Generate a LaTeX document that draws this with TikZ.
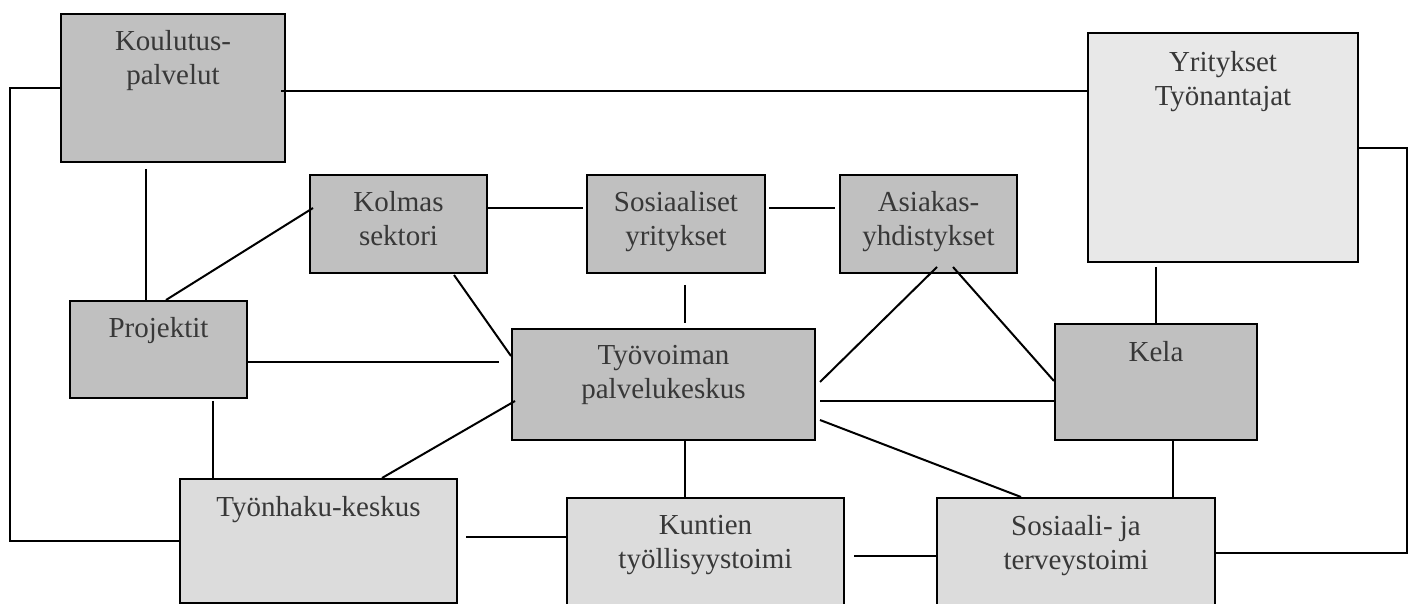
\documentclass[tikz,border=0pt]{standalone}
\usepackage{fontspec}
\setmainfont{Liberation Serif}
\definecolor{darkbox}{HTML}{C0C0C0}
\definecolor{lightbox}{HTML}{DCDCDC}
\definecolor{paleb}{HTML}{E8E8E8}
\definecolor{txt}{HTML}{383838}
\tikzset{
  boxn/.style={draw=black, line width=1pt, anchor=north west, inner sep=0pt},
  dk/.style={boxn, fill=darkbox},
  lt/.style={boxn, fill=lightbox},
  pl/.style={boxn, fill=paleb},
  lbl/.style={anchor=north, inner sep=0pt, align=center, text=txt,
    font=\fontsize{14.5}{17}\selectfont},
  conn/.style={draw=black, line width=1pt}
}
\begin{document}
\begin{tikzpicture}[x=0.5pt, y=-0.5pt]
\useasboundingbox (0,0) rectangle (1415,604);
\clip (0,0) rectangle (1415,604);
% boxes
\node[dk, minimum width=112pt, minimum height=74pt] (koul) at (60,13) {};
\node[pl, minimum width=135pt, minimum height=114.5pt] (yrit) at (1087,32) {};
\node[dk, minimum width=88.5pt, minimum height=49pt] (kol) at (309,174) {};
\node[dk, minimum width=89pt, minimum height=49pt] (sos) at (586,174) {};
\node[dk, minimum width=88.5pt, minimum height=49pt] (asi) at (839,174) {};
\node[dk, minimum width=88.5pt, minimum height=48.5pt] (proj) at (69,300) {};
\node[dk, minimum width=151.5pt, minimum height=55.5pt] (tyov) at (511,328) {};
\node[dk, minimum width=101pt, minimum height=58pt] (kela) at (1054,323) {};
\node[lt, minimum width=138.5pt, minimum height=62pt] (tyon) at (179,478) {};
\node[lt, minimum width=138.5pt, minimum height=70pt] (kunt) at (566,497) {};
\node[lt, minimum width=139pt, minimum height=70pt] (sosi) at (936,497) {};
% labels
\node[lbl] (koult) at ([shift={(0,17)}]koul.north) {Koulutus-\\palvelut};
\node[lbl] (yritt) at ([shift={(0,19)}]yrit.north) {Yritykset\\Työnantajat};
\node[lbl] (kolt) at ([shift={(0,17)}]kol.north) {Kolmas\\sektori};
\node[lbl] (sost) at ([shift={(0,17)}]sos.north) {Sosiaaliset\\yritykset};
\node[lbl] (asit) at ([shift={(0,17)}]asi.north) {Asiakas-\\yhdistykset};
\node[lbl] (projt) at ([shift={(0,17)}]proj.north) {Projektit};
\node[lbl] (tyovt) at ([shift={(0,17)}]tyov.north) {Työvoiman\\palvelukeskus};
\node[lbl] (kelat) at ([shift={(0,18)}]kela.north) {Kela};
\node[lbl] (tyont) at ([shift={(0,18)}]tyon.north) {Työnhaku-keskus};
\node[lbl] (kuntt) at ([shift={(0,18)}]kunt.north) {Kuntien\\työllisyystoimi};
\node[lbl] (sosit) at ([shift={(0,18)}]sosi.north) {Sosiaali- ja\\terveystoimi};
% corner coordinates
\coordinate (cL) at (10,300);
\coordinate (cR) at (1407,300);
% connectors
\draw[conn] (koul.west) -| (cL) |- (tyon.west);
\draw[conn] ([shift={(-5,3)}]koul.east) -- ([shift={(0,-56.5)}]yrit.west);
\draw[conn] ([shift={(-27,6)}]koul.south) -- ([shift={(-12.5,0)}]proj.north);
\draw[conn] ([shift={(4,-16)}]kol.west) -- ([shift={(7.5,0)}]proj.north);
\draw[conn] ([shift={(-2,-16)}]kol.east) -- ([shift={(-3,-16)}]sos.west);
\draw[conn] ([shift={(3,-16)}]sos.east) -- ([shift={(-4,-16)}]asi.west);
\draw[conn] ([shift={(55.5,1)}]kol.south) -- ([shift={(0,-28.5)}]tyov.west);
\draw[conn] ([shift={(9,11)}]sos.south) -- ([shift={(21.5,-5)}]tyov.north);
\draw[conn] ([shift={(8.5,-7)}]asi.south) -- ([shift={(4,-2.5)}]tyov.east);
\draw[conn] ([shift={(24.5,-7)}]asi.south) -- ([shift={(0,-1)}]kela.west);
\draw[conn] ([shift={(0,12.5)}]proj.east) -- ([shift={(-12,-22.5)}]tyov.west);
\draw[conn] ([shift={(54.5,2)}]proj.south) -- ([shift={(-105.5,0)}]tyon.north);
\draw[conn] ([shift={(63.5,0)}]tyon.north) -- ([shift={(4,16.5)}]tyov.west);
\draw[conn] ([shift={(4,16.5)}]tyov.east) -- ([shift={(0,19)}]kela.west);
\draw[conn] ([shift={(4,35.5)}]tyov.east) -- ([shift={(-55,0)}]sosi.north);
\draw[conn] ([shift={(21.5,0)}]tyov.south) -- ([shift={(-20.5,0)}]kunt.north);
\draw[conn] ([shift={(8,-4)}]tyon.east) -- ([shift={(0,-31)}]kunt.west);
\draw[conn] ([shift={(9,-12)}]kunt.east) -- ([shift={(0,-12)}]sosi.west);
\draw[conn] ([shift={(-67,4)}]yrit.south) -- (kela.north);
\draw[conn] ([shift={(0,0.5)}]yrit.east) -| (cR) |- ([shift={(0,-15)}]sosi.east);
\draw[conn] ([shift={(17,0)}]kela.south) -- ([shift={(97,0)}]sosi.north);
\end{tikzpicture}
\end{document}
